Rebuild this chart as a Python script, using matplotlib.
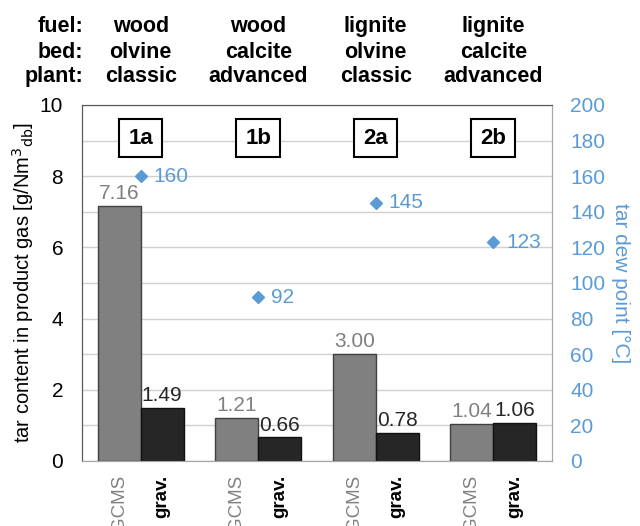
import numpy as np
import matplotlib.pyplot as plt
from matplotlib.transforms import blended_transform_factory

plt.rcParams['font.family'] = ['Liberation Sans', 'DejaVu Sans']

cases = ['1a', '1b', '2a', '2b']
fuel = ['wood', 'wood', 'lignite', 'lignite']
bed = ['olvine', 'calcite', 'olvine', 'calcite']
plant = ['classic', 'advanced', 'classic', 'advanced']
gcms = [7.16, 1.21, 3.00, 1.04]
grav = [1.49, 0.66, 0.78, 1.06]
dew_point = [160, 92, 145, 123]

blue = '#5b9bd5'
gray = '#808080'
dark = '#262626'
fs = 15

fig = plt.figure(figsize=(6.4, 5.26), dpi=100)
ax = fig.add_axes([0.128, 0.1236, 0.7345, 0.6768])
ax2 = ax.twinx()

x = np.arange(len(cases))
w = 0.365

ax.bar(x - w/2, gcms, w, color=gray, edgecolor='#404040', linewidth=1, zorder=3)
ax.bar(x + w/2, grav, w, color=dark, edgecolor='#111111', linewidth=1, zorder=3)

for i in range(len(cases)):
    ax.text(x[i] - w/2, gcms[i] + 0.08, f'{gcms[i]:.2f}', ha='center', va='bottom',
            color=gray, fontsize=fs, zorder=4)
    ax.text(x[i] + w/2, grav[i] + 0.08, f'{grav[i]:.2f}', ha='center', va='bottom',
            color=dark, fontsize=fs, zorder=4)
    # case tag boxes
    ax.text(x[i], 9.07, cases[i], ha='center', va='center', fontsize=16,
            fontweight='bold', zorder=5,
            bbox=dict(boxstyle='square,pad=0.4', fc='white', ec='black', lw=1.5))

ax2.plot(x, dew_point, 'D', color=blue, markersize=6, zorder=4)
for i in range(len(cases)):
    ax2.text(x[i] + 0.11, dew_point[i], str(dew_point[i]), ha='left', va='center',
             color=blue, fontsize=fs)

ax.set_xlim(-0.5, 3.5)
ax.set_ylim(0, 10)
ax2.set_ylim(0, 200)
ax.set_yticks(range(0, 11, 2))
ax.set_yticks(range(1, 10, 2), minor=True)
ax2.set_yticks(range(0, 201, 20))
ax.grid(axis='y', which='both', color='#d0d0d0', linewidth=1, zorder=0)
ax.set_axisbelow(True)

ax.tick_params(axis='y', which='both', length=0, labelsize=fs, pad=13.5)
ax2.tick_params(axis='y', length=0, labelsize=fs, labelcolor=blue, pad=13)

# tick labels under each bar
ax.set_xticks(np.concatenate([x - w/2, x + w/2]))
ax.set_xticklabels(['GCMS'] * 4 + ['grav.'] * 4, rotation=90, va='top', fontsize=13.5)
ax.tick_params(axis='x', length=0, pad=10)
for lbl in ax.get_xticklabels()[:4]:
    lbl.set_color(gray)
for lbl in ax.get_xticklabels()[4:]:
    lbl.set_fontweight('bold')
    lbl.set_color('black')

ax.set_ylabel('tar content in product gas [g/Nm$^3$$_{\\rm db}$]', fontsize=14.5, labelpad=3)
ax2.set_ylabel('tar dew point [°C]', fontsize=fs, color=blue, rotation=270, labelpad=18)

for a in (ax, ax2):
    a.spines['top'].set_color('#595959')
    a.spines['left'].set_color('#595959')
    a.spines['right'].set_color('#a6a6a6')
    a.spines['bottom'].set_color('#a6a6a6')

# header rows above the plot
tr = blended_transform_factory(ax.transData, fig.transFigure)
rows = [('fuel:', fuel, 0.9487), ('bed:', bed, 0.901), ('plant:', plant, 0.854)]
for name, vals, yy in rows:
    fig.text(0.1297, yy, name, ha='right', va='center', fontsize=15.5, fontweight='bold')
    for i, v in enumerate(vals):
        ax.text(x[i], yy, v, transform=tr, ha='center', va='center',
                fontsize=15.5, fontweight='bold')

fig.savefig('out.png', dpi=100)
